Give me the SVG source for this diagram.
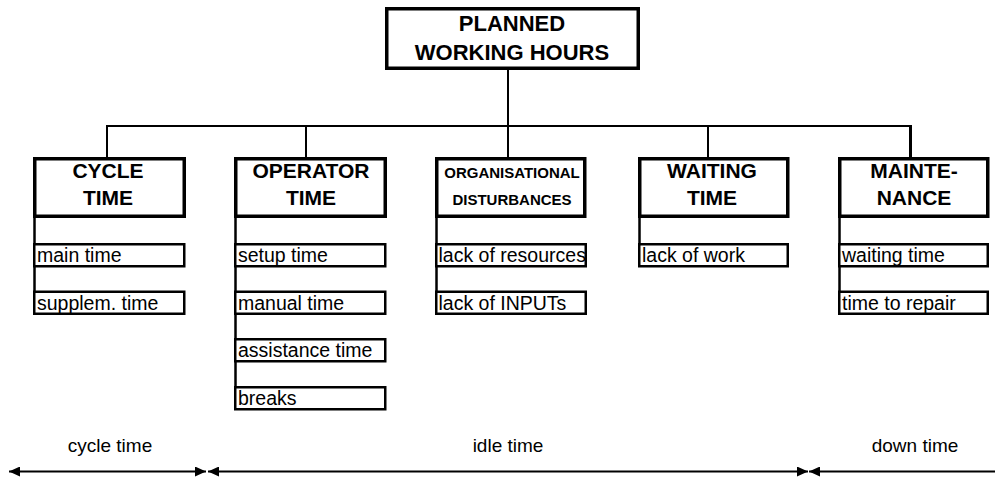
<svg xmlns="http://www.w3.org/2000/svg" width="995" height="477" viewBox="0 0 995 477">
<style>
.bg{fill:#fff}
.main{fill:#fff;stroke:#000;stroke-width:3.5}
.sub{fill:#fff;stroke:#000;stroke-width:2.5}
.ln{fill:none;stroke:#000;stroke-width:2}
.spine{fill:none;stroke:#000;stroke-width:2.5}
.t{font-family:"Liberation Sans",Arial,sans-serif;font-weight:bold;font-size:21px;text-anchor:middle;fill:#000}
.ts{font-family:"Liberation Sans",Arial,sans-serif;font-weight:bold;font-size:15px;text-anchor:middle;fill:#000}
.s{font-family:"Liberation Sans",Arial,sans-serif;font-size:19.5px;fill:#000}
.l{font-family:"Liberation Sans",Arial,sans-serif;font-size:19px;text-anchor:middle;fill:#000}
</style>
<defs>
<marker id="ah" viewBox="0 0 11 10" refX="11" refY="5" markerWidth="11" markerHeight="10" markerUnits="userSpaceOnUse" orient="auto-start-reverse">
<path d="M0,0 L11,5 L0,10 Z" fill="#000"/>
</marker>
</defs>
<rect class="bg" x="0" y="0" width="995" height="477"/>

<g id="connectors">
<line class="ln" x1="508" y1="70" x2="508" y2="158"/>
<line class="ln" x1="106" y1="126" x2="912" y2="126"/>
<line class="ln" x1="107" y1="125" x2="107" y2="158"/>
<line class="ln" x1="306" y1="125" x2="306" y2="158"/>
<line class="ln" x1="708" y1="125" x2="708" y2="158"/>
<line class="ln" x1="910.5" y1="125" x2="910.5" y2="158" style="stroke-width:3"/>
<line class="spine" x1="34.5" y1="217" x2="34.5" y2="315"/>
<line class="spine" x1="235.5" y1="217" x2="235.5" y2="410"/>
<line class="spine" x1="436.5" y1="217" x2="436.5" y2="315"/>
<line class="spine" x1="639.5" y1="217" x2="639.5" y2="267"/>
<line class="spine" x1="839.5" y1="217" x2="839.5" y2="315"/>
</g>

<g id="planned">
<rect class="main" x="386.75" y="8.75" width="251.5" height="59.5"/>
<text class="t" x="512" y="31" style="font-size:22px">PLANNED</text>
<text class="t" x="512" y="60" style="font-size:22px">WORKING HOURS</text>
</g>

<g id="cycle">
<rect class="main" x="34.75" y="158.75" width="149.5" height="57.5"/>
<text class="t" x="108" y="178">CYCLE</text>
<text class="t" x="108" y="205">TIME</text>
</g>
<g id="cycle-main"><rect class="sub" x="34.25" y="244.25" width="150" height="22"/><text class="s" x="37" y="262">main time</text></g>
<g id="cycle-supplem"><rect class="sub" x="34.25" y="291.75" width="150" height="22"/><text class="s" x="37" y="309.5">supplem. time</text></g>

<g id="operator">
<rect class="main" x="235.75" y="158.75" width="149.5" height="57.5"/>
<text class="t" x="311" y="178">OPERATOR</text>
<text class="t" x="311" y="205">TIME</text>
</g>
<g id="op-setup"><rect class="sub" x="235.25" y="244.25" width="150" height="22"/><text class="s" x="238" y="262">setup time</text></g>
<g id="op-manual"><rect class="sub" x="235.25" y="291.75" width="150" height="22"/><text class="s" x="238" y="309.5">manual time</text></g>
<g id="op-assist"><rect class="sub" x="235.25" y="339.25" width="150" height="22"/><text class="s" x="238" y="357">assistance time</text></g>
<g id="op-breaks"><rect class="sub" x="235.25" y="387.25" width="150" height="22"/><text class="s" x="238" y="405">breaks</text></g>

<g id="organisational">
<rect class="main" x="436.75" y="158.75" width="148" height="57.5"/>
<text class="ts" x="512" y="178">ORGANISATIONAL</text>
<text class="ts" x="512" y="205">DISTURBANCES</text>
</g>
<g id="org-resources"><rect class="sub" x="436.25" y="244.25" width="149.5" height="22"/><text class="s" x="438.5" y="262">lack of resources</text></g>
<g id="org-inputs"><rect class="sub" x="436.25" y="291.75" width="149.5" height="22"/><text class="s" x="438.5" y="309.5">lack of INPUTs</text></g>

<g id="waiting">
<rect class="main" x="639.75" y="158.75" width="148" height="57.5"/>
<text class="t" x="712" y="178">WAITING</text>
<text class="t" x="712" y="205">TIME</text>
</g>
<g id="wait-work"><rect class="sub" x="639.25" y="244.25" width="148.5" height="22"/><text class="s" x="642" y="262">lack of work</text></g>

<g id="maintenance">
<rect class="main" x="839.75" y="158.75" width="148" height="57.5"/>
<text class="t" x="914" y="178">MAINTE-</text>
<text class="t" x="914" y="205">NANCE</text>
</g>
<g id="mnt-waiting"><rect class="sub" x="839.25" y="244.25" width="148.5" height="22"/><text class="s" x="842" y="262">waiting time</text></g>
<g id="mnt-repair"><rect class="sub" x="839.25" y="291.75" width="148.5" height="22"/><text class="s" x="842" y="309.5">time to repair</text></g>

<g id="spans">
<line class="ln" x1="9" y1="471.5" x2="206" y2="471.5" marker-start="url(#ah)" marker-end="url(#ah)"/>
<line class="ln" x1="208" y1="471.5" x2="808" y2="471.5" marker-start="url(#ah)" marker-end="url(#ah)"/>
<line class="ln" x1="809" y1="471.5" x2="995" y2="471.5" marker-start="url(#ah)"/>
<text class="l" x="110" y="452">cycle time</text>
<text class="l" x="508" y="452">idle time</text>
<text class="l" x="915" y="452">down time</text>
</g>
</svg>
